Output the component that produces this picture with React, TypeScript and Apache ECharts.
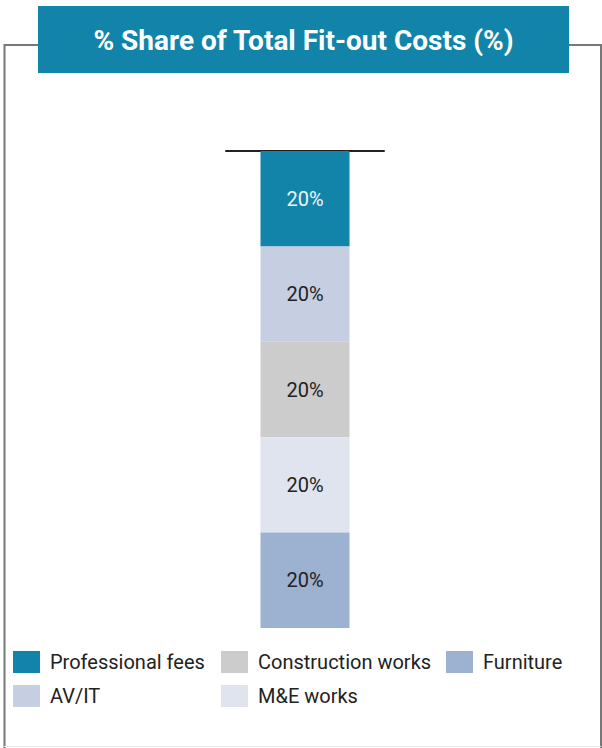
import React, { useEffect, useRef } from "react";
import * as echarts from "echarts";

const categories = ["Total"];
const seriesNames = ["Professional fees", "AV/IT", "Construction works", "M&E works", "Furniture"];
const seriesValues = [[20], [20], [20], [20], [20]];
const seriesColors = ["#1384a9", "#c5cfe1", "#cccccc", "#dfe4ee", "#9db1d0"];
const labelColors = ["#eef6fa", "#222222", "#222222", "#222222", "#222222"];
const titleText = "% Share of Total Fit-out Costs (%)";

const legendLayout = [
  { name: "Professional fees", left: 13, top: 651 },
  { name: "Construction works", left: 221, top: 651 },
  { name: "Furniture", left: 446, top: 651 },
  { name: "AV/IT", left: 13, top: 685 },
  { name: "M&E works", left: 221, top: 685 },
];

export default function App() {
  const ref = useRef<HTMLDivElement>(null);
  useEffect(() => {
    document.body.style.margin = "0";
    const chart = echarts.init(ref.current!, null, { renderer: "svg" });
    const option: any = {
      animation: false,
      textStyle: { fontFamily: "Roboto" },
      graphic: [
        {
          type: "polyline",
          shape: { points: [[38, 45], [4.5, 45], [4.5, 748]] },
          style: { stroke: "#777777", lineWidth: 2, fill: null },
        },
        {
          type: "polyline",
          shape: { points: [[569, 45], [601, 45], [601, 748]] },
          style: { stroke: "#777777", lineWidth: 2, fill: null },
        },
        {
          type: "line",
          shape: { x1: 4, y1: 746.5, x2: 601, y2: 746.5 },
          style: { stroke: "#e6e6e6", lineWidth: 1 },
        },
        {
          type: "rect",
          shape: { x: 38, y: 6, width: 531, height: 67 },
          style: { fill: "#1384a9" },
        },
        {
          type: "text",
          x: 303.5,
          y: 40,
          style: {
            text: titleText,
            fill: "#ffffff",
            font: "bold 28px Roboto",
            align: "center",
            verticalAlign: "middle",
          },
        },
      ],
      legend: legendLayout.map((l) => ({
        data: [l.name],
        left: l.left,
        top: l.top,
        padding: 0,
        itemWidth: 27,
        itemHeight: 22,
        icon: "rect",
        selectedMode: false,
        textStyle: { fontSize: 20, color: "#222222", lineHeight: 22, padding: [0, 0, 0, 5], fontFamily: "Roboto" },
      })),
      grid: { left: 226, top: 151, width: 158, height: 477, containLabel: false },
      xAxis: {
        type: "category",
        data: categories,
        position: "top",
        axisLine: { show: true, lineStyle: { color: "#222222", width: 2 } },
        axisTick: { show: false },
        axisLabel: { show: false },
      },
      yAxis: {
        type: "value",
        inverse: true,
        min: 0,
        max: 100,
        show: false,
        splitLine: { show: false },
      },
      series: seriesNames.map((name, i) => ({
        name,
        type: "bar",
        stack: "total",
        data: seriesValues[i],
        barWidth: 89,
        itemStyle: { color: seriesColors[i] },
        label: {
          show: true,
          position: "inside",
          formatter: "{c}%",
          fontSize: 20,
          color: labelColors[i],
          fontFamily: "Roboto",
        },
      })),
    };
    chart.setOption(option);
    return () => chart.dispose();
  }, []);
  return <div ref={ref} style={{ width: 602, height: 748 }} />;
}
